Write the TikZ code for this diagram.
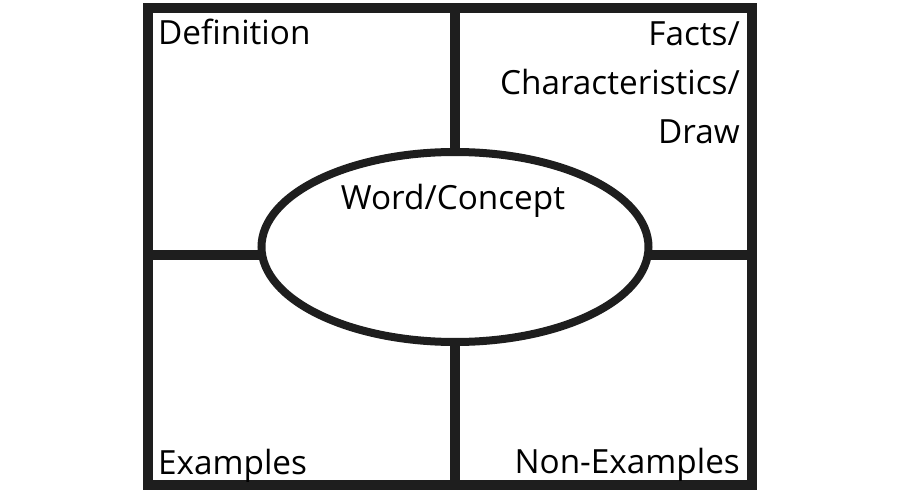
\documentclass[tikz,border=0pt]{standalone}
\usepackage{fontspec}
\setmainfont{Open Sans}
\usetikzlibrary{shapes.geometric}
\definecolor{ink}{RGB}{30,30,30}
\begin{document}
\begin{tikzpicture}[x=1pt,y=-1pt,
  frame/.style={draw=ink,line width=10pt,line cap=rect},
  divider/.style={draw=ink,line width=10pt},
  oval/.style={ellipse,draw=ink,fill=white,line width=8pt,minimum width=387pt,minimum height=190pt,inner sep=0pt},
  lbl/.style={inner sep=0pt,font=\fontsize{33.3}{48}\selectfont,text=black}]
\useasboundingbox (0,0) rectangle (900,500);
\coordinate (tl) at (148,8);
\coordinate (br) at (752,485);
\coordinate (vt) at (455,8);
\coordinate (vb) at (455,485);
\coordinate (hl) at (148,255);
\coordinate (hr) at (752,255);
\draw[divider] (vt) -- (vb);
\draw[divider] (hl) -- (hr);
\draw[frame] (tl) rectangle (br);
\node[oval] (concept) at (455,247) {};
\node[lbl,anchor=base west] (def) at (158,45) {Definition};
\node[lbl,anchor=base east] (facts1) at (740,46) {Facts/};
\node[lbl,anchor=base east] (facts2) at (740,95) {Characteristics/};
\node[lbl,anchor=base east] (facts3) at (740,144) {Draw};
\node[lbl,anchor=base] (word) at (453,210) {Word/Concept};
\node[lbl,anchor=base west] (ex) at (158,474) {Examples};
\node[lbl,anchor=base east] (nonex) at (740,473) {Non-Examples};
\end{tikzpicture}
\end{document}
